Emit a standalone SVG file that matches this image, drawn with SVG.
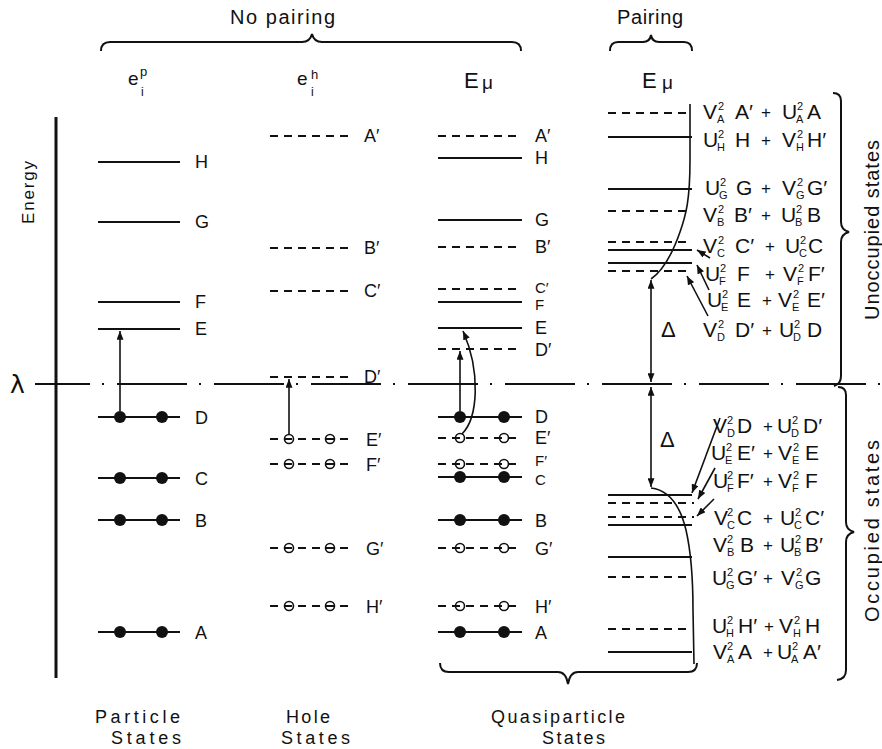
<svg xmlns="http://www.w3.org/2000/svg" width="882" height="749" viewBox="0 0 882 749">
<defs>
<marker id="ah" viewBox="0 0 10 8" refX="10" refY="4" markerWidth="9" markerHeight="7" markerUnits="userSpaceOnUse" orient="auto-start-reverse"><path d="M0,0 L10,4 L0,8 z" fill="#111"/></marker>
</defs>
<style>
.lv{stroke:#111;stroke-width:2;fill:none}
.ds{stroke-dasharray:8 6}
.cv{stroke:#111;stroke-width:1.6;fill:none}
.ar{stroke:#111;stroke-width:1.6;fill:none;marker-end:url(#ah)}
.br{stroke:#111;stroke-width:2;fill:none}
.dot{fill:#111}
.oc{fill:none;stroke:#111;stroke-width:1.6}
text{font-family:"Liberation Sans",Arial,sans-serif;fill:#111}
.lab{font-size:18px}
.labs{font-size:15px}
.big{font-size:21px}
.sm{font-size:11px}
.pl{font-size:17px}
.hd{font-size:20px}
.bt{font-size:18px}
</style>
<rect width="882" height="749" fill="#fff"/>

<!-- headers -->
<g id="header">
<text x="230" y="24" class="hd" textLength="105">No pairing</text>
<path class="br" d="M101,51 Q101,42 110,42 L302,42 Q310,42 312,34 Q314,42 322,42 L512,42 Q521,42 521,51"/>
<text x="617" y="24" class="hd" textLength="66">Pairing</text>
<path class="br" d="M610,51 Q610,42 618,42 L643,42 Q650,42 651,35 Q652,42 659,42 L684,42 Q692,42 692,51"/>
<text x="128" y="85" style="font-size:19px">e</text><text x="140" y="76" style="font-size:13px">p</text><text x="141" y="96" style="font-size:12px">i</text>
<text x="297" y="85" style="font-size:19px">e</text><text x="311" y="79" style="font-size:13px">h</text><text x="311" y="96" style="font-size:12px">i</text>
<text x="464" y="88" style="font-size:22px">E</text><text x="482" y="89" style="font-size:19px">μ</text>
<text x="642" y="88" style="font-size:22px">E</text><text x="662" y="89" style="font-size:19px">μ</text>
</g>

<!-- energy axis and fermi level -->
<g id="axis">
<line x1="56" y1="117" x2="56" y2="678" stroke="#111" stroke-width="3"/>
<text transform="translate(34,224) rotate(-90)" style="font-size:17px" textLength="63">Energy</text>
<text x="10" y="393" style="font-size:25px;font-family:'DejaVu Sans',sans-serif">λ</text>
<line x1="35" y1="384" x2="882" y2="384" stroke="#111" stroke-width="2" stroke-dasharray="70 12 2 13" stroke-dashoffset="15"/>
</g>

<!-- particle states -->
<g id="p-H"><line class="lv" x1="98" y1="162" x2="180" y2="162"/><text class="lab" x="195" y="168">H</text></g>
<g id="p-G"><line class="lv" x1="98" y1="222" x2="180" y2="222"/><text class="lab" x="195" y="228">G</text></g>
<g id="p-F"><line class="lv" x1="98" y1="302" x2="180" y2="302"/><text class="lab" x="195" y="308">F</text></g>
<g id="p-E"><line class="lv" x1="98" y1="329" x2="180" y2="329"/><text class="lab" x="195" y="335">E</text></g>
<g id="p-D"><line class="lv" x1="98" y1="417" x2="180" y2="417"/><circle class="dot" cx="120" cy="417" r="6"/><circle class="dot" cx="162" cy="417" r="6"/><text class="lab" x="195" y="424">D</text></g>
<g id="p-C"><line class="lv" x1="98" y1="478" x2="180" y2="478"/><circle class="dot" cx="120" cy="478" r="6"/><circle class="dot" cx="162" cy="478" r="6"/><text class="lab" x="195" y="485">C</text></g>
<g id="p-B"><line class="lv" x1="98" y1="520" x2="180" y2="520"/><circle class="dot" cx="120" cy="520" r="6"/><circle class="dot" cx="162" cy="520" r="6"/><text class="lab" x="195" y="527">B</text></g>
<g id="p-A"><line class="lv" x1="98" y1="632" x2="180" y2="632"/><circle class="dot" cx="120" cy="632" r="6"/><circle class="dot" cx="162" cy="632" r="6"/><text class="lab" x="195" y="639">A</text></g>

<!-- hole states -->
<g id="h-A"><line class="lv ds" x1="270" y1="136" x2="352" y2="136"/><text class="lab" x="364" y="142">A′</text></g>
<g id="h-B"><line class="lv ds" x1="270" y1="248" x2="352" y2="248"/><text class="lab" x="364" y="254">B′</text></g>
<g id="h-C"><line class="lv ds" x1="270" y1="291" x2="352" y2="291"/><text class="lab" x="364" y="297">C′</text></g>
<g id="h-D"><line class="lv ds" x1="270" y1="377" x2="352" y2="377"/><text class="lab" x="364" y="383">D′</text></g>
<g id="h-E"><line class="lv ds" x1="270" y1="439" x2="352" y2="439"/><circle class="oc" cx="289" cy="439" r="4.5"/><circle class="oc" cx="330" cy="439" r="4.5"/><text class="lab" x="366" y="446">E′</text></g>
<g id="h-F"><line class="lv ds" x1="270" y1="464" x2="352" y2="464"/><circle class="oc" cx="289" cy="464" r="4.5"/><circle class="oc" cx="330" cy="464" r="4.5"/><text class="lab" x="366" y="471">F′</text></g>
<g id="h-G"><line class="lv ds" x1="270" y1="548" x2="352" y2="548"/><circle class="oc" cx="289" cy="548" r="4.5"/><circle class="oc" cx="330" cy="548" r="4.5"/><text class="lab" x="366" y="555">G′</text></g>
<g id="h-H"><line class="lv ds" x1="270" y1="606" x2="352" y2="606"/><circle class="oc" cx="289" cy="606" r="4.5"/><circle class="oc" cx="330" cy="606" r="4.5"/><text class="lab" x="366" y="613">H′</text></g>

<!-- quasiparticle states -->
<g id="q-A1"><line class="lv ds" x1="438" y1="136" x2="522" y2="136"/><text class="lab" x="535" y="142">A′</text></g>
<g id="q-H"><line class="lv" x1="438" y1="158" x2="522" y2="158"/><text class="lab" x="535" y="164">H</text></g>
<g id="q-G"><line class="lv" x1="438" y1="220" x2="522" y2="220"/><text class="lab" x="535" y="226">G</text></g>
<g id="q-B1"><line class="lv ds" x1="438" y1="247" x2="522" y2="247"/><text class="lab" x="535" y="253">B′</text></g>
<g id="q-C1"><line class="lv ds" x1="438" y1="289" x2="522" y2="289"/><text class="labs" x="535" y="293">C′</text></g>
<g id="q-F"><line class="lv" x1="438" y1="302" x2="522" y2="302"/><text class="labs" x="535" y="310">F</text></g>
<g id="q-E"><line class="lv" x1="438" y1="328" x2="522" y2="328"/><text class="lab" x="535" y="334">E</text></g>
<g id="q-D1"><line class="lv ds" x1="438" y1="349" x2="522" y2="349"/><text class="lab" x="535" y="356">D′</text></g>
<g id="q-D"><line class="lv" x1="438" y1="417" x2="522" y2="417"/><circle class="dot" cx="460" cy="417" r="6"/><circle class="dot" cx="504" cy="417" r="6"/><text class="lab" x="535" y="423">D</text></g>
<g id="q-E1"><line class="lv ds" x1="438" y1="438" x2="522" y2="438"/><circle class="oc" cx="460" cy="438" r="4.5"/><circle class="oc" cx="504" cy="438" r="4.5"/><text class="lab" x="535" y="444">E′</text></g>
<g id="q-F1"><line class="lv ds" x1="438" y1="464" x2="522" y2="464"/><circle class="oc" cx="460" cy="464" r="4.5"/><circle class="oc" cx="504" cy="464" r="4.5"/><text class="labs" x="535" y="466">F′</text></g>
<g id="q-C"><line class="lv" x1="438" y1="477" x2="522" y2="477"/><circle class="dot" cx="460" cy="477" r="6"/><circle class="dot" cx="504" cy="477" r="6"/><text class="labs" x="535" y="485">C</text></g>
<g id="q-B"><line class="lv" x1="438" y1="520" x2="522" y2="520"/><circle class="dot" cx="460" cy="520" r="6"/><circle class="dot" cx="504" cy="520" r="6"/><text class="lab" x="535" y="527">B</text></g>
<g id="q-G1"><line class="lv ds" x1="438" y1="548" x2="522" y2="548"/><circle class="oc" cx="460" cy="548" r="4.5"/><circle class="oc" cx="504" cy="548" r="4.5"/><text class="lab" x="535" y="555">G′</text></g>
<g id="q-H1"><line class="lv ds" x1="438" y1="606" x2="522" y2="606"/><circle class="oc" cx="460" cy="606" r="4.5"/><circle class="oc" cx="504" cy="606" r="4.5"/><text class="lab" x="535" y="613">H′</text></g>
<g id="q-A"><line class="lv" x1="438" y1="632" x2="522" y2="632"/><circle class="dot" cx="460" cy="632" r="6"/><circle class="dot" cx="504" cy="632" r="6"/><text class="lab" x="535" y="639">A</text></g>

<!-- pairing levels -->
<g id="pair-upper">
<line class="lv ds" x1="608" y1="113" x2="692" y2="113"/>
<line class="lv" x1="608" y1="137" x2="692" y2="137"/>
<line class="lv" x1="608" y1="189" x2="692" y2="189"/>
<line class="lv ds" x1="608" y1="211" x2="692" y2="211"/>
<line class="lv ds" x1="608" y1="242" x2="692" y2="242"/>
<line class="lv" x1="608" y1="250" x2="692" y2="250"/>
<line class="lv" x1="608" y1="263" x2="692" y2="263"/>
<line class="lv ds" x1="608" y1="271" x2="692" y2="271"/>
</g>
<g id="pair-lower">
<line class="lv" x1="608" y1="495" x2="692" y2="495"/>
<line class="lv ds" x1="608" y1="503" x2="694" y2="503"/>
<line class="lv ds" x1="608" y1="517" x2="694" y2="517"/>
<line class="lv" x1="608" y1="525" x2="692" y2="525"/>
<line class="lv" x1="608" y1="557" x2="692" y2="557"/>
<line class="lv ds" x1="608" y1="577" x2="692" y2="577"/>
<line class="lv ds" x1="608" y1="629" x2="692" y2="629"/>
<line class="lv" x1="608" y1="652" x2="692" y2="652"/>
</g>

<!-- pairing labels -->
<g id="labels-upper" class="big">
<text><tspan x="703" y="119">V</tspan><tspan class="sm" x="718" y="110">2</tspan><tspan class="sm" x="717" y="123">A</tspan><tspan x="735" y="119">A′</tspan><tspan class="pl" x="761" y="118">+</tspan><tspan x="782" y="119">U</tspan><tspan class="sm" x="797" y="110">2</tspan><tspan class="sm" x="796" y="123">A</tspan><tspan x="807" y="119">A</tspan></text>
<text><tspan x="703" y="147">U</tspan><tspan class="sm" x="718" y="138">2</tspan><tspan class="sm" x="717" y="151">H</tspan><tspan x="735" y="147">H</tspan><tspan class="pl" x="761" y="146">+</tspan><tspan x="782" y="147">V</tspan><tspan class="sm" x="797" y="138">2</tspan><tspan class="sm" x="796" y="151">H</tspan><tspan x="807" y="147">H′</tspan></text>
<text><tspan x="705" y="195">U</tspan><tspan class="sm" x="720" y="186">2</tspan><tspan class="sm" x="719" y="199">G</tspan><tspan x="736" y="195">G</tspan><tspan class="pl" x="761" y="194">+</tspan><tspan x="782" y="195">V</tspan><tspan class="sm" x="797" y="186">2</tspan><tspan class="sm" x="796" y="199">G</tspan><tspan x="807" y="195">G′</tspan></text>
<text><tspan x="703" y="222">V</tspan><tspan class="sm" x="718" y="213">2</tspan><tspan class="sm" x="717" y="226">B</tspan><tspan x="734" y="222">B′</tspan><tspan class="pl" x="761" y="221">+</tspan><tspan x="781" y="222">U</tspan><tspan class="sm" x="796" y="213">2</tspan><tspan class="sm" x="795" y="226">B</tspan><tspan x="807" y="222">B</tspan></text>
<text><tspan x="703" y="253">V</tspan><tspan class="sm" x="718" y="244">2</tspan><tspan class="sm" x="717" y="257">C</tspan><tspan x="735" y="253">C′</tspan><tspan class="pl" x="765" y="252">+</tspan><tspan x="785" y="253">U</tspan><tspan class="sm" x="800" y="244">2</tspan><tspan class="sm" x="799" y="257">C</tspan><tspan x="808" y="253">C</tspan></text>
<text><tspan x="705" y="281">U</tspan><tspan class="sm" x="720" y="272">2</tspan><tspan class="sm" x="719" y="285">F</tspan><tspan x="737" y="281">F</tspan><tspan class="pl" x="765" y="280">+</tspan><tspan x="783" y="281">V</tspan><tspan class="sm" x="798" y="272">2</tspan><tspan class="sm" x="797" y="285">F</tspan><tspan x="808" y="281">F′</tspan></text>
<text><tspan x="707" y="307">U</tspan><tspan class="sm" x="722" y="298">2</tspan><tspan class="sm" x="721" y="311">E</tspan><tspan x="737" y="307">E</tspan><tspan class="pl" x="762" y="306">+</tspan><tspan x="778" y="307">V</tspan><tspan class="sm" x="793" y="298">2</tspan><tspan class="sm" x="792" y="311">E</tspan><tspan x="807" y="307">E′</tspan></text>
<text><tspan x="703" y="337">V</tspan><tspan class="sm" x="718" y="328">2</tspan><tspan class="sm" x="717" y="341">D</tspan><tspan x="735" y="337">D′</tspan><tspan class="pl" x="762" y="336">+</tspan><tspan x="779" y="337">U</tspan><tspan class="sm" x="794" y="328">2</tspan><tspan class="sm" x="793" y="341">D</tspan><tspan x="807" y="337">D</tspan></text>
</g>
<g id="labels-lower" class="big">
<text><tspan x="713" y="433">V</tspan><tspan class="sm" x="727" y="424">2</tspan><tspan class="sm" x="727" y="437">D</tspan><tspan x="737" y="433">D</tspan><tspan class="pl" x="763" y="432">+</tspan><tspan x="777" y="433">U</tspan><tspan class="sm" x="792" y="424">2</tspan><tspan class="sm" x="791" y="437">D</tspan><tspan x="803" y="433">D′</tspan></text>
<text><tspan x="711" y="460">U</tspan><tspan class="sm" x="726" y="451">2</tspan><tspan class="sm" x="725" y="464">E</tspan><tspan x="737" y="460">E′</tspan><tspan class="pl" x="763" y="459">+</tspan><tspan x="778" y="460">V</tspan><tspan class="sm" x="793" y="451">2</tspan><tspan class="sm" x="792" y="464">E</tspan><tspan x="805" y="460">E</tspan></text>
<text><tspan x="713" y="488">U</tspan><tspan class="sm" x="727" y="479">2</tspan><tspan class="sm" x="727" y="492">F</tspan><tspan x="737" y="488">F′</tspan><tspan class="pl" x="763" y="487">+</tspan><tspan x="778" y="488">V</tspan><tspan class="sm" x="793" y="479">2</tspan><tspan class="sm" x="792" y="492">F</tspan><tspan x="805" y="488">F</tspan></text>
<text><tspan x="714" y="525">V</tspan><tspan class="sm" x="727" y="516">2</tspan><tspan class="sm" x="727" y="529">C</tspan><tspan x="737" y="525">C</tspan><tspan class="pl" x="763" y="524">+</tspan><tspan x="780" y="525">U</tspan><tspan class="sm" x="795" y="516">2</tspan><tspan class="sm" x="794" y="529">C</tspan><tspan x="805" y="525">C′</tspan></text>
<text><tspan x="713" y="552">V</tspan><tspan class="sm" x="727" y="543">2</tspan><tspan class="sm" x="727" y="556">B</tspan><tspan x="740" y="552">B</tspan><tspan class="pl" x="763" y="551">+</tspan><tspan x="780" y="552">U</tspan><tspan class="sm" x="795" y="543">2</tspan><tspan class="sm" x="794" y="556">B</tspan><tspan x="805" y="552">B′</tspan></text>
<text><tspan x="712" y="585">U</tspan><tspan class="sm" x="727" y="576">2</tspan><tspan class="sm" x="726" y="589">G</tspan><tspan x="737" y="585">G′</tspan><tspan class="pl" x="763" y="584">+</tspan><tspan x="781" y="585">V</tspan><tspan class="sm" x="796" y="576">2</tspan><tspan class="sm" x="795" y="589">G</tspan><tspan x="805" y="585">G</tspan></text>
<text><tspan x="712" y="633">U</tspan><tspan class="sm" x="727" y="624">2</tspan><tspan class="sm" x="726" y="637">H</tspan><tspan x="738" y="633">H′</tspan><tspan class="pl" x="764" y="632">+</tspan><tspan x="779" y="633">V</tspan><tspan class="sm" x="794" y="624">2</tspan><tspan class="sm" x="793" y="637">H</tspan><tspan x="805" y="633">H</tspan></text>
<text><tspan x="713" y="659">V</tspan><tspan class="sm" x="727" y="650">2</tspan><tspan class="sm" x="727" y="663">A</tspan><tspan x="738" y="659">A</tspan><tspan class="pl" x="763" y="658">+</tspan><tspan x="777" y="659">U</tspan><tspan class="sm" x="792" y="650">2</tspan><tspan class="sm" x="791" y="663">A</tspan><tspan x="803" y="659">A′</tspan></text>
</g>

<!-- gap deltas -->
<g id="delta">
<text x="661" y="337" style="font-size:22px">Δ</text>
<text x="660" y="447" style="font-size:22px">Δ</text>
</g>

<!-- right braces -->
<g id="brace-unocc">
<path class="br" d="M833,93 Q841,93 841,101 L841,222 Q841,230 849,232 Q841,234 841,242 L841,376 Q841,384 834,386"/>
<text transform="translate(879,320) rotate(-90)" class="hd" textLength="180">Unoccupied states</text>
</g>
<g id="brace-occ">
<path class="br" d="M838,387 Q846,387 846,395 L846,522 Q846,530 854,532 Q846,534 846,542 L846,670 Q846,679 837,680"/>
<text transform="translate(879,622) rotate(-90)" class="hd" textLength="182">Occupied states</text>
</g>

<!-- bottom brace and labels -->
<g id="bottom">
<path class="br" d="M440,663 Q440,672 449,672 L558,672 Q566,672 568,684 Q570,672 578,672 L688,672 Q697,672 697,663"/>
<text x="95" y="723" class="bt" textLength="85">Particle</text>
<text x="111" y="744" class="bt" textLength="70">States</text>
<text x="286" y="723" class="bt" textLength="44">Hole</text>
<text x="281" y="744" class="bt" textLength="69">States</text>
<text x="491" y="723" class="bt" textLength="134">Quasiparticle</text>
<text x="542" y="744" class="bt" textLength="63">States</text>
</g>

<!-- connectors -->
<g id="connectors">
<line class="ar" x1="120" y1="411" x2="120" y2="331"/>
<line class="ar" x1="289" y1="434" x2="289" y2="379"/>
<line class="ar" x1="460" y1="411" x2="460" y2="351"/>
<path class="ar" d="M462,434 C478,418 481,372 463,331"/>
<path class="cv" d="M690,104 L690,160 C690,200 686,215 680,232 C673,252 664,270 651,279"/>
<path class="cv" d="M651,488 C668,490 680,505 686,530 C691,552 693,580 693,610 L694,664"/>
<line class="ar" style="marker-start:url(#ah)" x1="651" y1="280" x2="651" y2="382"/>
<line class="ar" style="marker-start:url(#ah)" x1="651" y1="387" x2="651" y2="487"/>
<line class="ar" x1="710" y1="258" x2="697" y2="250"/>
<line class="ar" x1="709" y1="290" x2="697" y2="265"/>
<line class="ar" x1="708" y1="316" x2="687" y2="276"/>
<line class="ar" x1="720" y1="418" x2="692" y2="493"/>
<line class="ar" x1="715" y1="468" x2="698" y2="499"/>
<line class="ar" x1="714" y1="499" x2="697" y2="516"/>
</g>
</svg>
